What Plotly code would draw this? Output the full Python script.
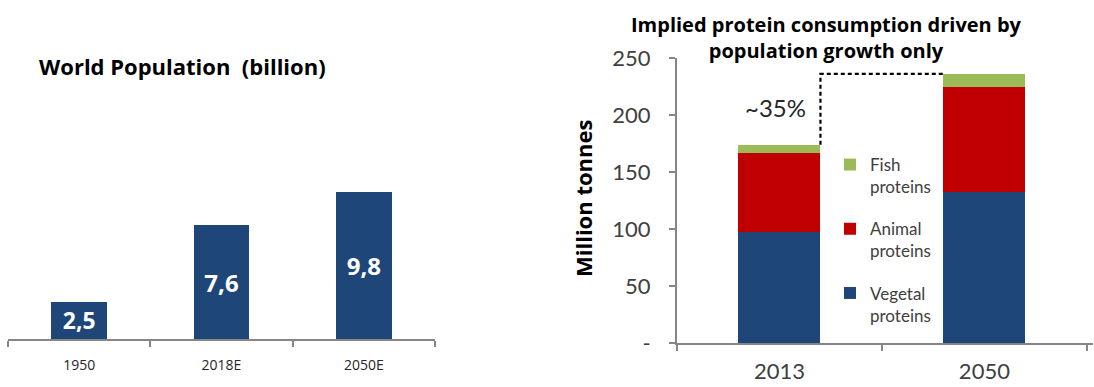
import plotly.graph_objects as go

# World population (billion)
pop_years = ["1950", "2018E", "2050E"]
pop_values = [2.5, 7.6, 9.8]
pop_labels = ["2,5", "7,6", "9,8"]

# Protein consumption (million tonnes)
prot_years = ["2013", "2050"]
vegetal = [97, 132.5]
animal = [70, 92]
fish = [7, 11.5]
growth_label = "~35%"

y_ticks = [0, 50, 100, 150, 200, 250]
y_ticktext = ["-", "50", "100", "150", "200", "250"]

NAVY = "#1F4678"
RED = "#C00000"
GREEN = "#9BBB59"
AXIS = "#868686"
TEXT = "#404040"
FONT = "Lato"
BOLD = "Open Sans"

W, H = 1094, 387
BAR_W = 0.4

fig = go.Figure()

fig.add_trace(go.Bar(
    x=pop_years, y=pop_values, text=pop_labels, textposition="inside",
    insidetextanchor="middle",
    textfont=dict(family=BOLD, size=24, color="white", weight="bold"),
    marker=dict(color=NAVY, line=dict(width=0)), width=0.39,
    xaxis="x", yaxis="y", showlegend=False, hoverinfo="skip",
))

# stacked from the bottom; legend lists fish first
series = [("Vegetal<br>proteins", vegetal, NAVY, 3),
          ("Animal<br>proteins", animal, RED, 2),
          ("Fish<br>proteins", fish, GREEN, 1)]
for name, vals, col, rank in series:
    fig.add_trace(go.Bar(
        x=prot_years, y=vals, name=name, legendgroup=name, legendrank=rank,
        marker=dict(color=col, line=dict(width=0)), width=BAR_W,
        xaxis="x2", yaxis="y2",
    ))

tot_2013 = vegetal[0] + animal[0] + fish[0]
tot_2050 = vegetal[1] + animal[1] + fish[1]

# dashed step connector from the 2013 total to the 2050 total
fig.add_shape(type="path", xref="x2", yref="y2",
              path=f"M {BAR_W/2},{tot_2013} L {BAR_W/2},{tot_2050} L {1-BAR_W/2},{tot_2050}",
              line=dict(color="black", width=2.2, dash="4px,3px"))

fig.add_annotation(xref="x2", yref="y2", x=-0.02, y=(tot_2013 + tot_2050) / 2 + 2,
                   text=growth_label, showarrow=False, xanchor="center", yanchor="middle",
                   font=dict(family=FONT, size=24, color="#262626"))

fig.add_annotation(xref="paper", yref="paper", x=182 / W, y=1 - 66 / H,
                   text="World Population  (billion)", showarrow=False,
                   xanchor="center", yanchor="middle",
                   font=dict(family=BOLD, size=22, color="black", weight="bold"))

fig.add_annotation(xref="paper", yref="paper", x=826 / W, y=1 - 38 / H,
                   text="Implied protein consumption driven by<br>population growth only",
                   showarrow=False, xanchor="center", yanchor="middle",
                   font=dict(family=BOLD, size=20, color="black", weight="bold"))

fig.add_annotation(xref="paper", yref="paper", x=583 / W, y=1 - 199 / H,
                   text="Million tonnes", textangle=-90, showarrow=False,
                   xanchor="center", yanchor="middle",
                   font=dict(family=BOLD, size=22, color="black", weight="bold"))

fig.update_layout(
    width=W, height=H, margin=dict(l=0, r=0, t=0, b=0, autoexpand=False),
    paper_bgcolor="white", plot_bgcolor="white",
    barmode="stack", font=dict(family=FONT, color=TEXT),
    xaxis=dict(domain=[8 / W, 435 / W], type="category", range=[-0.5, 2.5],
               tickson="boundaries", ticks="outside", ticklen=6, tickwidth=2,
               tickcolor=AXIS, showline=True, linecolor=AXIS, linewidth=2,
               showgrid=False, automargin=False, ticklabelstandoff=12,
               tickfont=dict(family=BOLD, size=14, color="#262626"),
               anchor="y"),
    yaxis=dict(domain=[1 - 339 / H, 1 - 58 / H], range=[0, 281 / 15], visible=False,
               automargin=False, anchor="x"),
    xaxis2=dict(domain=[677 / W, 1093 / W], type="category", range=[-0.5, 1.53],
                tickson="boundaries", ticks="outside", ticklen=6, tickwidth=2,
                tickcolor=AXIS, showline=True, linecolor=AXIS, linewidth=2,
                showgrid=False, automargin=False, ticklabelstandoff=8,
                tickfont=dict(family=FONT, size=22, color=TEXT),
                anchor="y2"),
    yaxis2=dict(domain=[1 - 343 / H, 1 - 58 / H], range=[0, 250],
                tickvals=y_ticks, ticktext=y_ticktext, ticks="outside", ticklen=6,
                tickwidth=2, tickcolor=AXIS, showline=True, linecolor=AXIS,
                linewidth=2, showgrid=False, zeroline=False, automargin=False,
                ticklabelstandoff=14,
                tickfont=dict(family=FONT, size=22, color=TEXT), anchor="x2"),
    legend=dict(x=830 / W, y=1 - 147 / H, xanchor="left", yanchor="top",
                traceorder="grouped", valign="top", tracegroupgap=17,
                font=dict(family=FONT, size=17, color=TEXT),
                bgcolor="rgba(0,0,0,0)", itemwidth=30),
)

fig.write_html("out.html")
